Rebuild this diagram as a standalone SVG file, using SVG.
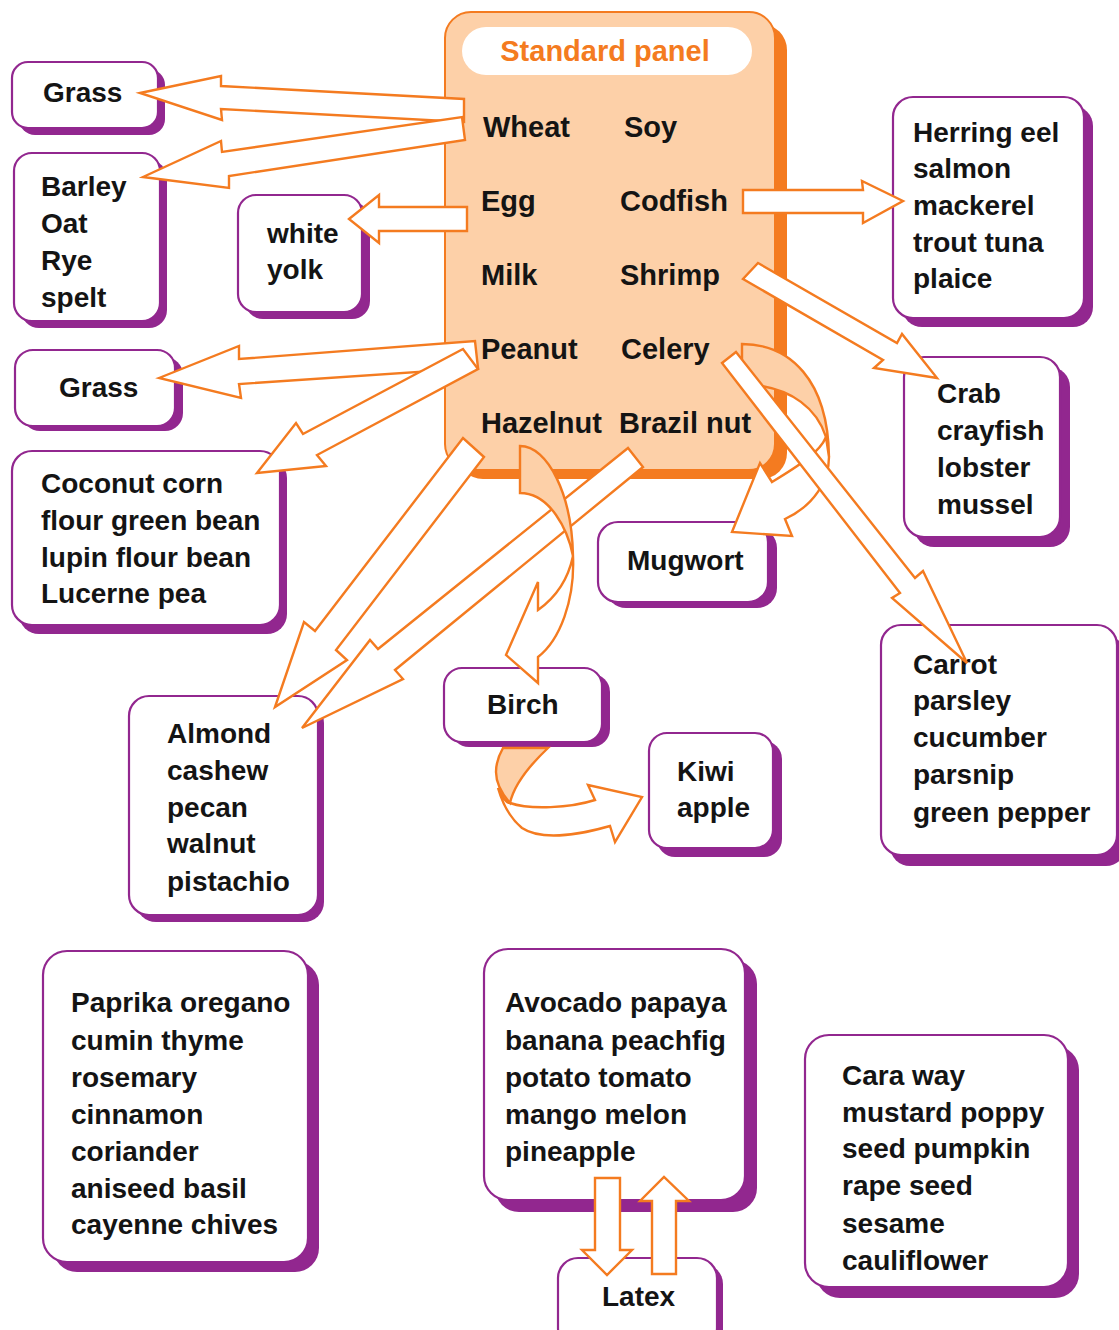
<svg xmlns="http://www.w3.org/2000/svg" width="1119" height="1330" viewBox="0 0 1119 1330">
<style>
.sh{fill:#92278f}
.bx{fill:#fff;stroke:#92278f;stroke-width:2.2}
.t{font-family:"Liberation Sans",Arial,sans-serif;font-weight:bold;font-size:28px;fill:#141414}
.pt{font-family:"Liberation Sans",Arial,sans-serif;font-weight:bold;font-size:29px;fill:#141414}
.ar{fill:#fff;stroke:#f47b20;stroke-width:2.4;stroke-linejoin:miter}
.ap{fill:#fdd0a8;stroke:#f47b20;stroke-width:2.4}
</style>
<rect width="1119" height="1330" fill="#fff"/>
<g id="panel">
<rect x="457" y="24" width="330" height="455" rx="26" fill="#f47b20"/>
<rect x="445" y="12" width="330" height="458" rx="26" fill="#fdd0a8" stroke="#f47b20" stroke-width="2"/>
<rect x="462" y="27" width="290" height="48" rx="24" fill="#fff"/>
<text x="605" y="61" text-anchor="middle" class="pt" style="fill:#f47b20">Standard panel</text>
<text class="pt" x="483" y="137">Wheat</text><text class="pt" x="624" y="137">Soy</text>
<text class="pt" x="481" y="211">Egg</text><text class="pt" x="620" y="211">Codfish</text>
<text class="pt" x="481" y="285">Milk</text><text class="pt" x="620" y="285">Shrimp</text>
<text class="pt" x="481" y="359">Peanut</text><text class="pt" x="621" y="359">Celery</text>
<text class="pt" x="481" y="433">Hazelnut</text><text class="pt" x="619" y="433">Brazil nut</text>
</g>
<g id="grass1"><rect class="sh" x="19" y="69" width="146" height="66" rx="16"/><rect class="bx" x="12" y="62" width="146" height="66" rx="16"/><text class="t" x="43" y="102">Grass</text></g>
<g id="barley"><rect class="sh" x="21" y="160" width="146" height="168" rx="18"/><rect class="bx" x="14" y="153" width="146" height="168" rx="18"/><text class="t" x="41"><tspan x="41" y="196">Barley</tspan><tspan x="41" y="233">Oat</tspan><tspan x="41" y="270">Rye</tspan><tspan x="41" y="307">spelt</tspan></text></g>
<g id="egg"><rect class="sh" x="245" y="202" width="125" height="117" rx="18"/><rect class="bx" x="238" y="195" width="124" height="117" rx="18"/><text class="t"><tspan x="267" y="243">white</tspan><tspan x="267" y="279">yolk</tspan></text></g>
<g id="grass2"><rect class="sh" x="22" y="357" width="161" height="74" rx="18"/><rect class="bx" x="15" y="350" width="160" height="76" rx="18"/><text class="t" x="59" y="397">Grass</text></g>
<g id="legumes"><rect class="sh" x="19" y="458" width="268" height="176" rx="20"/><rect class="bx" x="12" y="451" width="268" height="174" rx="20"/><text class="t"><tspan x="41" y="493">Coconut corn</tspan><tspan x="41" y="530">flour green bean</tspan><tspan x="41" y="567">lupin flour bean</tspan><tspan x="41" y="603">Lucerne pea</tspan></text></g>
<g id="nuts"><rect class="sh" x="136" y="703" width="188" height="219" rx="20"/><rect class="bx" x="129" y="696" width="189" height="219" rx="20"/><text class="t"><tspan x="167" y="743">Almond</tspan><tspan x="167" y="780">cashew</tspan><tspan x="167" y="817">pecan</tspan><tspan x="167" y="853">walnut</tspan><tspan x="167" y="891">pistachio</tspan></text></g>
<g id="birch"><rect class="sh" x="451" y="674" width="159" height="73" rx="18"/><rect class="bx" x="444" y="668" width="158" height="74" rx="18"/><text class="t" x="487" y="714">Birch</text></g>
<g id="mugwort"><rect class="sh" x="606" y="528" width="171" height="80" rx="20"/><rect class="bx" x="598" y="522" width="170" height="80" rx="20"/><text class="t" x="627" y="570">Mugwort</text></g>
<g id="kiwi"><rect class="sh" x="657" y="741" width="125" height="116" rx="18"/><rect class="bx" x="649" y="733" width="124" height="115" rx="18"/><text class="t"><tspan x="677" y="781">Kiwi</tspan><tspan x="677" y="817">apple</tspan></text></g>
<g id="fish"><rect class="sh" x="902" y="106" width="191" height="221" rx="20"/><rect class="bx" x="893" y="97" width="191" height="221" rx="20"/><text class="t"><tspan x="913" y="142">Herring eel</tspan><tspan x="913" y="178">salmon</tspan><tspan x="913" y="215">mackerel</tspan><tspan x="913" y="252">trout tuna</tspan><tspan x="913" y="288">plaice</tspan></text></g>
<g id="shellfish"><rect class="sh" x="914" y="367" width="156" height="180" rx="20"/><rect class="bx" x="904" y="357" width="156" height="180" rx="20"/><text class="t"><tspan x="937" y="403">Crab</tspan><tspan x="937" y="440">crayfish</tspan><tspan x="937" y="477">lobster</tspan><tspan x="937" y="514">mussel</tspan></text></g>
<g id="vegetables"><rect class="sh" x="890" y="636" width="236" height="230" rx="20"/><rect class="bx" x="881" y="625" width="236" height="230" rx="20"/><text class="t"><tspan x="913" y="674">Carrot</tspan><tspan x="913" y="710">parsley</tspan><tspan x="913" y="747">cucumber</tspan><tspan x="913" y="784">parsnip</tspan><tspan x="913" y="822">green pepper</tspan></text></g>
<g id="spices"><rect class="sh" x="53" y="961" width="266" height="311" rx="24"/><rect class="bx" x="43" y="951" width="265" height="311" rx="24"/><text class="t"><tspan x="71" y="1012">Paprika oregano</tspan><tspan x="71" y="1050">cumin thyme</tspan><tspan x="71" y="1087">rosemary</tspan><tspan x="71" y="1124">cinnamon</tspan><tspan x="71" y="1161">coriander</tspan><tspan x="71" y="1198">aniseed basil</tspan><tspan x="71" y="1234">cayenne chives</tspan></text></g>
<g id="fruits"><rect class="sh" x="495" y="960" width="262" height="252" rx="24"/><rect class="bx" x="484" y="949" width="261" height="251" rx="24"/><text class="t"><tspan x="505" y="1012">Avocado papaya</tspan><tspan x="505" y="1050">banana peachfig</tspan><tspan x="505" y="1087">potato tomato</tspan><tspan x="505" y="1124">mango melon</tspan><tspan x="505" y="1161">pineapple</tspan></text></g>
<g id="seeds"><rect class="sh" x="816" y="1046" width="263" height="252" rx="24"/><rect class="bx" x="805" y="1035" width="263" height="252" rx="24"/><text class="t"><tspan x="842" y="1085">Cara way</tspan><tspan x="842" y="1122">mustard poppy</tspan><tspan x="842" y="1158">seed pumpkin</tspan><tspan x="842" y="1195">rape seed</tspan><tspan x="842" y="1233">sesame</tspan><tspan x="842" y="1270">cauliflower</tspan></text></g>
<g id="latex"><rect class="sh" x="565" y="1264" width="158" height="90" rx="20"/><rect class="bx" x="558" y="1258" width="159" height="90" rx="20"/><text class="t" x="602" y="1306">Latex</text></g>
<g id="connectors">
<polygon class="ar" points="140,93 221,76 221,86 464,99 464,122 221,109 222,120"/>
<polygon class="ar" points="143,177 221,141 222,152 462,117 465,140 229,176 229,188"/>
<polygon class="ar" points="349,219 379,195 379,207 467,207 467,231 379,231 379,243"/>
<polygon class="ar" points="159,378 239,346 239,359 475,341 478,368 239,384 241,398"/>
<polygon class="ar" points="257,473 296,423 303,434 463,349 478,369 317,455 326,466"/>
<polygon class="ar" points="275,707 304,622 315,631 463,438 484,457 336,650 347,660"/>
<polygon class="ar" points="302,728 370,640 378,649 628,448 643,467 395,670 403,679"/>
<path class="ap" d="M520,446 C548,446 572,495 573,556 C568,530 550,493 520,493 Z"/>
<path class="ar" d="M573,556 C575,600 560,640 538,657 L538,683 L506,655 L538,582 L538,610 C555,598 568,580 573,556 Z"/>
<polygon class="ar" points="743,190 863,190 862,181 903,201 863,223 863,213 743,213"/>
<polygon class="ar" points="758,263 897,343 902,334 937,378 874,368 883,360 743,279"/>
<path class="ap" d="M742,344 C790,344 828,380 829,457 L826,437 C818,412 795,386 742,384 Z"/>
<path class="ar" d="M829,457 C829,480 815,505 785,519 L792,536 L732,532 L760,463 L772,482 C800,465 820,452 826,437 Z"/>
<polygon class="ar" points="736,352 915,578 923,571 967,663 892,598 900,593 722,363"/>
<path class="ar" d="M498,788 C503,798 506,803 510,803 C530,810 570,808 595,800 L588,785 L642,797 L615,842 L610,826 C575,836 540,840 522,828 C510,818 502,802 498,788 Z"/>
<path class="ap" d="M503,748 L548,748 C530,765 514,785 510,803 C503,795 496,785 496,772 C496,762 499,755 503,748 Z"/>
<polygon class="ar" points="595,1178 620,1178 620,1250 632,1250 607,1275 582,1250 595,1250"/>
<polygon class="ar" points="652,1274 676,1274 676,1201 689,1201 664,1177 640,1201 652,1201"/>
</g>
</svg>
